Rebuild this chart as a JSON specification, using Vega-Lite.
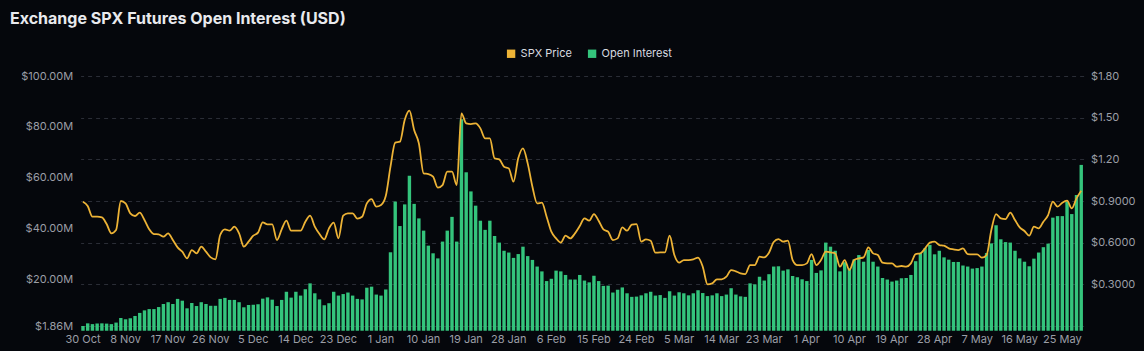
{
"$schema": "https://vega.github.io/schema/vega-lite/v6.json",
"width": 1003, "height": 250,
"autosize": {"type": "none"},
"padding": {"left": 80.6, "top": 76, "right": 60.4, "bottom": 25},
"background": "#05070c",
"title": {"text": "Exchange SPX Futures Open Interest (USD)", "anchor": "start", "frame": "group", "dx": -70.6, "offset": 21, "fontSize": 16, "font": "Inter", "fontWeight": 700, "color": "#e9eaee"},
"data": {"values": [
{"d":"30 Oct","oi":1.86,"p":0.895},{"d":"31 Oct","oi":2.9,"p":0.864},
{"d":"1 Nov","oi":2.6,"p":0.787},{"d":"2 Nov","oi":2.8,"p":0.787},{"d":"3 Nov","oi":2.9,"p":0.782},{"d":"4 Nov","oi":2.8,"p":0.734},{"d":"5 Nov","oi":2.6,"p":0.667},{"d":"6 Nov","oi":3.2,"p":0.691},{"d":"7 Nov","oi":5.0,"p":0.90},{"d":"8 Nov","oi":4.5,"p":0.883},{"d":"9 Nov","oi":4.9,"p":0.811},{"d":"10 Nov","oi":5.8,"p":0.792},
{"d":"11 Nov","oi":7.0,"p":0.816},{"d":"12 Nov","oi":8.0,"p":0.763},{"d":"13 Nov","oi":8.5,"p":0.696},{"d":"14 Nov","oi":8.5,"p":0.662},{"d":"15 Nov","oi":9.3,"p":0.66},{"d":"16 Nov","oi":10.5,"p":0.643},{"d":"17 Nov","oi":11.2,"p":0.667},{"d":"18 Nov","oi":10.5,"p":0.619},{"d":"19 Nov","oi":12.5,"p":0.566},{"d":"20 Nov","oi":11.8,"p":0.535},
{"d":"21 Nov","oi":8.8,"p":0.487},{"d":"22 Nov","oi":10.9,"p":0.547},{"d":"23 Nov","oi":9.7,"p":0.523},{"d":"24 Nov","oi":11.2,"p":0.571},{"d":"25 Nov","oi":10.5,"p":0.535},{"d":"26 Nov","oi":9.8,"p":0.494},{"d":"27 Nov","oi":9.8,"p":0.48},{"d":"28 Nov","oi":12.5,"p":0.655},{"d":"29 Nov","oi":12.9,"p":0.696},{"d":"30 Nov","oi":12.1,"p":0.686},
{"d":"1 Dec","oi":12.1,"p":0.715},{"d":"2 Dec","oi":11.2,"p":0.667},{"d":"3 Dec","oi":9.2,"p":0.571},{"d":"4 Dec","oi":10.1,"p":0.607},{"d":"5 Dec","oi":10.2,"p":0.65},{"d":"6 Dec","oi":10.4,"p":0.672},{"d":"7 Dec","oi":12.6,"p":0.746},{"d":"8 Dec","oi":13.1,"p":0.732},{"d":"9 Dec","oi":12.2,"p":0.732},{"d":"10 Dec","oi":9.7,"p":0.619},
{"d":"11 Dec","oi":12.1,"p":0.696},{"d":"12 Dec","oi":15.3,"p":0.758},{"d":"13 Dec","oi":13.0,"p":0.686},{"d":"14 Dec","oi":15.3,"p":0.686},{"d":"15 Dec","oi":13.8,"p":0.686},{"d":"16 Dec","oi":16.3,"p":0.751},{"d":"17 Dec","oi":18.6,"p":0.794},{"d":"18 Dec","oi":14.7,"p":0.715},{"d":"19 Dec","oi":12.3,"p":0.662},{"d":"20 Dec","oi":10.0,"p":0.624},
{"d":"21 Dec","oi":10.8,"p":0.703},{"d":"22 Dec","oi":15.3,"p":0.744},{"d":"23 Dec","oi":13.8,"p":0.631},{"d":"24 Dec","oi":14.4,"p":0.794},{"d":"25 Dec","oi":15.0,"p":0.811},{"d":"26 Dec","oi":13.8,"p":0.811},{"d":"27 Dec","oi":12.5,"p":0.773},{"d":"28 Dec","oi":12.3,"p":0.787},{"d":"29 Dec","oi":16.9,"p":0.883},{"d":"30 Dec","oi":17.3,"p":0.914},{"d":"31 Dec","oi":14.2,"p":0.859},
{"d":"1 Jan","oi":13.8,"p":0.871},{"d":"2 Jan","oi":16.2,"p":0.936},{"d":"3 Jan","oi":30.8,"p":1.147},{"d":"4 Jan","oi":50.7,"p":1.32},{"d":"5 Jan","oi":41.1,"p":1.327},{"d":"6 Jan","oi":49.6,"p":1.483},{"d":"7 Jan","oi":60.8,"p":1.55},{"d":"8 Jan","oi":49.8,"p":1.411},{"d":"9 Jan","oi":44.1,"p":1.315},{"d":"10 Jan","oi":39.3,"p":1.099},
{"d":"11 Jan","oi":33.4,"p":1.094},{"d":"12 Jan","oi":30.4,"p":1.075},{"d":"13 Jan","oi":28.4,"p":0.996},{"d":"14 Jan","oi":35.0,"p":1.015},{"d":"15 Jan","oi":39.3,"p":1.111},{"d":"16 Jan","oi":44.7,"p":1.111},{"d":"17 Jan","oi":35.0,"p":1.015},{"d":"18 Jan","oi":83.0,"p":1.531},{"d":"19 Jan","oi":62.2,"p":1.459},{"d":"20 Jan","oi":54.7,"p":1.454},
{"d":"21 Jan","oi":49.1,"p":1.459},{"d":"22 Jan","oi":43.2,"p":1.423},{"d":"23 Jan","oi":39.6,"p":1.351},{"d":"24 Jan","oi":43.2,"p":1.351},{"d":"25 Jan","oi":37.2,"p":1.207},{"d":"26 Jan","oi":34.6,"p":1.2},{"d":"27 Jan","oi":31.4,"p":1.147},{"d":"28 Jan","oi":30.7,"p":1.135},{"d":"29 Jan","oi":28.6,"p":1.039},{"d":"30 Jan","oi":30.1,"p":1.207},{"d":"31 Jan","oi":33.0,"p":1.279},
{"d":"1 Feb","oi":29.3,"p":1.171},{"d":"2 Feb","oi":27.8,"p":1.003},{"d":"3 Feb","oi":25.2,"p":0.883},{"d":"4 Feb","oi":23.3,"p":0.888},{"d":"5 Feb","oi":19.5,"p":0.787},{"d":"6 Feb","oi":20.4,"p":0.679},{"d":"7 Feb","oi":23.6,"p":0.631},{"d":"8 Feb","oi":23.3,"p":0.6},{"d":"9 Feb","oi":21.9,"p":0.65},{"d":"10 Feb","oi":20.1,"p":0.631},
{"d":"11 Feb","oi":20.1,"p":0.667},{"d":"12 Feb","oi":21.9,"p":0.72},{"d":"13 Feb","oi":19.7,"p":0.775},{"d":"14 Feb","oi":19.0,"p":0.758},{"d":"15 Feb","oi":21.6,"p":0.806},{"d":"16 Feb","oi":19.5,"p":0.758},{"d":"17 Feb","oi":17.6,"p":0.696},{"d":"18 Feb","oi":17.7,"p":0.679},{"d":"19 Feb","oi":15.0,"p":0.619},{"d":"20 Feb","oi":16.1,"p":0.631},
{"d":"21 Feb","oi":17.0,"p":0.71},{"d":"22 Feb","oi":14.7,"p":0.686},{"d":"23 Feb","oi":13.3,"p":0.73},{"d":"24 Feb","oi":13.4,"p":0.734},{"d":"25 Feb","oi":13.9,"p":0.607},{"d":"26 Feb","oi":14.7,"p":0.624},{"d":"27 Feb","oi":15.3,"p":0.614},{"d":"28 Feb","oi":13.8,"p":0.528},
{"d":"1 Mar","oi":14.0,"p":0.53},{"d":"2 Mar","oi":12.9,"p":0.53},{"d":"3 Mar","oi":15.5,"p":0.65},{"d":"4 Mar","oi":13.8,"p":0.511},{"d":"5 Mar","oi":15.1,"p":0.456},{"d":"6 Mar","oi":14.7,"p":0.475},{"d":"7 Mar","oi":13.9,"p":0.475},{"d":"8 Mar","oi":14.7,"p":0.48},{"d":"9 Mar","oi":15.9,"p":0.492},{"d":"10 Mar","oi":14.8,"p":0.427},
{"d":"11 Mar","oi":13.6,"p":0.30},{"d":"12 Mar","oi":13.9,"p":0.307},{"d":"13 Mar","oi":14.7,"p":0.336},{"d":"14 Mar","oi":13.6,"p":0.336},{"d":"15 Mar","oi":14.2,"p":0.355},{"d":"16 Mar","oi":16.7,"p":0.403},{"d":"17 Mar","oi":14.2,"p":0.394},{"d":"18 Mar","oi":13.5,"p":0.379},{"d":"19 Mar","oi":13.3,"p":0.374},{"d":"20 Mar","oi":18.6,"p":0.439},
{"d":"21 Mar","oi":18.2,"p":0.439},{"d":"22 Mar","oi":21.2,"p":0.499},{"d":"23 Mar","oi":19.7,"p":0.494},{"d":"24 Mar","oi":22.2,"p":0.528},{"d":"25 Mar","oi":25.2,"p":0.605},{"d":"26 Mar","oi":25.3,"p":0.626},{"d":"27 Mar","oi":23.6,"p":0.607},{"d":"28 Mar","oi":24.1,"p":0.614},{"d":"29 Mar","oi":21.5,"p":0.475},{"d":"30 Mar","oi":21.0,"p":0.439},{"d":"31 Mar","oi":20.2,"p":0.439},
{"d":"1 Apr","oi":19.5,"p":0.451},{"d":"2 Apr","oi":27.8,"p":0.518},{"d":"3 Apr","oi":22.7,"p":0.439},{"d":"4 Apr","oi":23.7,"p":0.475},{"d":"5 Apr","oi":34.6,"p":0.535},{"d":"6 Apr","oi":33.0,"p":0.53},{"d":"7 Apr","oi":31.4,"p":0.523},{"d":"8 Apr","oi":23.3,"p":0.427},{"d":"9 Apr","oi":26.9,"p":0.475},{"d":"10 Apr","oi":24.5,"p":0.403},
{"d":"11 Apr","oi":28.0,"p":0.475},{"d":"12 Apr","oi":29.7,"p":0.487},{"d":"13 Apr","oi":27.1,"p":0.494},{"d":"14 Apr","oi":31.7,"p":0.566},{"d":"15 Apr","oi":27.1,"p":0.523},{"d":"16 Apr","oi":25.2,"p":0.511},{"d":"17 Apr","oi":20.7,"p":0.456},{"d":"18 Apr","oi":20.1,"p":0.451},{"d":"19 Apr","oi":19.3,"p":0.451},{"d":"20 Apr","oi":19.7,"p":0.427},
{"d":"21 Apr","oi":20.6,"p":0.432},{"d":"22 Apr","oi":20.7,"p":0.427},{"d":"23 Apr","oi":21.9,"p":0.451},{"d":"24 Apr","oi":27.3,"p":0.518},{"d":"25 Apr","oi":30.5,"p":0.523},{"d":"26 Apr","oi":32.4,"p":0.559},{"d":"27 Apr","oi":33.7,"p":0.60},{"d":"28 Apr","oi":30.0,"p":0.607},{"d":"29 Apr","oi":31.4,"p":0.583},{"d":"30 Apr","oi":28.8,"p":0.578},
{"d":"1 May","oi":27.9,"p":0.559},{"d":"2 May","oi":27.0,"p":0.552},{"d":"3 May","oi":27.0,"p":0.547},{"d":"4 May","oi":25.6,"p":0.559},{"d":"5 May","oi":25.2,"p":0.518},{"d":"6 May","oi":24.4,"p":0.516},{"d":"7 May","oi":24.6,"p":0.516},{"d":"8 May","oi":25.2,"p":0.492},{"d":"9 May","oi":30.5,"p":0.511},{"d":"10 May","oi":34.3,"p":0.691},
{"d":"11 May","oi":41.4,"p":0.806},{"d":"12 May","oi":35.9,"p":0.775},{"d":"13 May","oi":34.8,"p":0.77},{"d":"14 May","oi":34.6,"p":0.816},{"d":"15 May","oi":31.4,"p":0.763},{"d":"16 May","oi":28.4,"p":0.71},{"d":"17 May","oi":27.1,"p":0.684},{"d":"18 May","oi":25.3,"p":0.65},{"d":"19 May","oi":28.3,"p":0.715},{"d":"20 May","oi":30.7,"p":0.703},
{"d":"21 May","oi":32.8,"p":0.751},{"d":"22 May","oi":34.2,"p":0.799},{"d":"23 May","oi":44.4,"p":0.895},{"d":"24 May","oi":45.0,"p":0.859},{"d":"25 May","oi":45.0,"p":0.888},{"d":"26 May","oi":50.7,"p":0.902},{"d":"27 May","oi":45.8,"p":0.847},{"d":"28 May","oi":53.3,"p":0.919},{"d":"29 May","oi":65.1,"p":0.974}
]},
"encoding": {
  "x": {"field": "d", "type": "ordinal", "sort": null,
    "scale": {"paddingInner": 0.28, "paddingOuter": 0.14},
    "axis": {"title": null, "labelAngle": 0, "values": ["30 Oct","8 Nov","17 Nov","26 Nov","5 Dec","14 Dec","23 Dec","1 Jan","10 Jan","19 Jan","28 Jan","6 Feb","15 Feb","24 Feb","5 Mar","14 Mar","23 Mar","1 Apr","10 Apr","19 Apr","28 Apr","7 May","16 May","25 May"],
      "domainColor": "#2b2e36", "tickColor": "#2b2e36", "tickSize": 4, "labelPadding": 3, "labelColor": "#9b9ea6", "labelFont": "Inter", "labelFontSize": 11, "grid": false}}
},
"layer": [
  {"mark": {"type": "bar"},
   "encoding": {
     "y": {"field": "oi", "type": "quantitative", "scale": {"domain": [1.86, 100], "zero": false, "nice": false},
       "axis": {"orient": "left", "title": null, "values": [1.86, 20, 40, 60, 80, 100], "labelExpr": "'$' + format(datum.value, '.2f') + 'M'", "grid": false, "domain": false, "ticks": false, "labelPadding": 8, "labelColor": "#9b9ea6", "labelFont": "Inter", "labelFontSize": 11}},
     "color": {"datum": "Open Interest", "type": "nominal",
       "scale": {"domain": ["SPX Price", "Open Interest"], "range": ["#edb336", "#34c47c"]},
       "legend": {"orient": "none", "legendX": 425, "legendY": -28, "direction": "horizontal", "title": null, "symbolType": "square", "symbolSize": 70, "symbolStrokeWidth": 0, "labelColor": "#d9dbe0", "labelFontSize": 11, "labelFont": "Inter", "columnPadding": 14,
         "encode": {"symbols": {"update": {"fill": {"scale": "color", "field": "value"}, "fillOpacity": {"value": 1}, "strokeWidth": {"value": 0}}}}}}
   }},
  {"mark": {"type": "line", "interpolate": "monotone", "strokeWidth": 1.8},
   "encoding": {
     "y": {"field": "p", "type": "quantitative", "scale": {"domain": [0, 1.8], "nice": false},
       "axis": {"orient": "right", "title": null, "values": [0.3, 0.6, 0.9, 1.2, 1.5, 1.8], "labelExpr": "datum.value < 1 ? '$' + format(datum.value, '.4f') : '$' + format(datum.value, '.2f')", "grid": true, "gridDash": [4, 4], "gridColor": "#2a2d36", "domain": false, "ticks": false, "labelPadding": 7, "labelColor": "#9b9ea6", "labelFont": "Inter", "labelFontSize": 11}},
     "color": {"datum": "SPX Price", "type": "nominal"}
   }}
],
"resolve": {"scale": {"y": "independent"}},
"config": {"view": {"stroke": null}}
}
